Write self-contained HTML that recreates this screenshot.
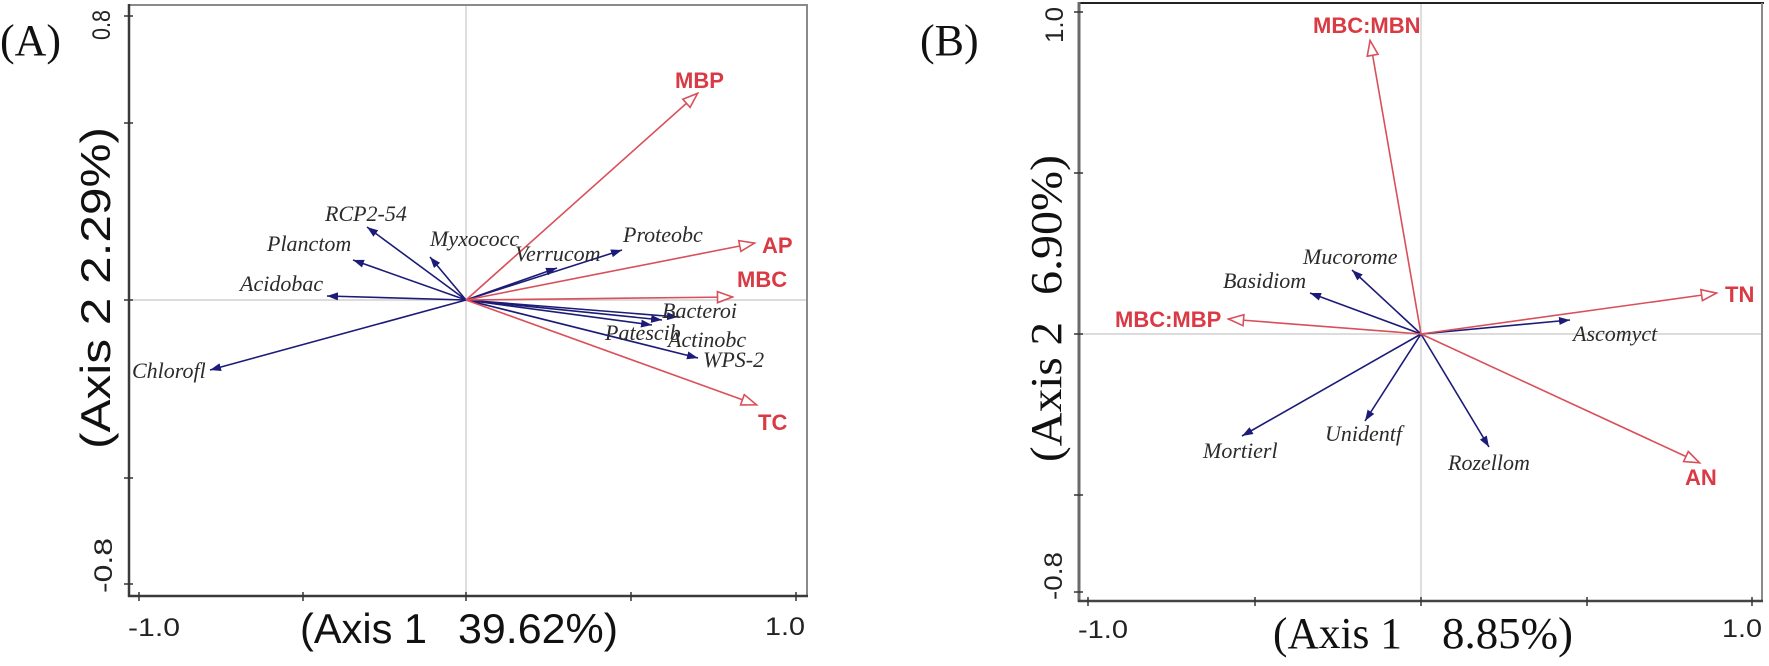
<!DOCTYPE html>
<html><head><meta charset="utf-8"><style>
html,body{margin:0;padding:0;background:#fff;}
svg{display:block;}
.it{font-family:"Liberation Serif",serif;font-style:italic;font-size:22px;fill:#2b2b2b;}
.rd{font-family:"Liberation Sans",sans-serif;font-weight:bold;font-size:22px;fill:#d93a44;}
.tk{font-family:"Liberation Sans",sans-serif;font-size:25px;fill:#222;}
.ta{font-family:"Liberation Sans",sans-serif;font-size:42px;fill:#111;}
.tb{font-family:"Liberation Serif",serif;font-size:44px;fill:#111;}
.pl{font-family:"Liberation Serif",serif;font-size:44px;fill:#111;}
.bl{stroke:#1c1c78;stroke-width:1.6;fill:none;}
.rl{stroke:#d9505a;stroke-width:1.6;fill:none;}
</style></head><body>
<svg width="1769" height="666" viewBox="0 0 1769 666" xmlns="http://www.w3.org/2000/svg">
<defs>
<marker id="bh" markerUnits="userSpaceOnUse" markerWidth="12" markerHeight="8" refX="11" refY="4" orient="auto">
<path d="M0,0 L11,4 L0,8 z" fill="#1c1c78"/>
</marker>
<marker id="rh" markerUnits="userSpaceOnUse" markerWidth="18" markerHeight="14" refX="16.5" refY="7" orient="auto">
<path d="M1,1.5 L16,7 L1,12.5 z" fill="#fff" stroke="#d9505a" stroke-width="1.6"/>
</marker>
</defs>

<!-- ============ PANEL A ============ -->
<text class="pl" x="0" y="55">(A)</text>
<line x1="129" y1="300" x2="807" y2="300" stroke="#c8c8c8" stroke-width="1.2"/>
<line x1="466" y1="5" x2="466" y2="596" stroke="#c8c8c8" stroke-width="1.2"/>
<line x1="129" y1="5" x2="808" y2="5" stroke="#8a8a8a" stroke-width="2"/>
<line x1="807" y1="5" x2="807" y2="597" stroke="#8a8a8a" stroke-width="2"/>
<line x1="129" y1="4" x2="129" y2="597" stroke="#3a3a3a" stroke-width="2.5"/>
<line x1="128" y1="596" x2="808" y2="596" stroke="#3a3a3a" stroke-width="2.5"/>
<g stroke="#333" stroke-width="1.5">
<line x1="124" y1="16" x2="133" y2="16"/>
<line x1="124" y1="123" x2="133" y2="123"/>
<line x1="124" y1="300" x2="133" y2="300"/>
<line x1="124" y1="478" x2="133" y2="478"/>
<line x1="124" y1="584" x2="133" y2="584"/>
<line x1="139" y1="592" x2="139" y2="601"/>
<line x1="303" y1="592" x2="303" y2="601"/>
<line x1="466" y1="592" x2="466" y2="601"/>
<line x1="631" y1="592" x2="631" y2="601"/>
<line x1="796" y1="592" x2="796" y2="601"/>
</g>
<text class="tk" transform="translate(110,40) rotate(-90)" textLength="30" lengthAdjust="spacingAndGlyphs">0.8</text>
<text class="tk" transform="translate(112,593) rotate(-90)" textLength="55" lengthAdjust="spacingAndGlyphs">-0.8</text>
<text class="tk" x="128" y="636" textLength="52" lengthAdjust="spacingAndGlyphs">-1.0</text>
<text class="tk" x="765" y="635" textLength="40" lengthAdjust="spacingAndGlyphs">1.0</text>
<text class="ta" x="300" y="643" textLength="127" lengthAdjust="spacingAndGlyphs">(Axis 1</text>
<text class="ta" x="458" y="643" textLength="160" lengthAdjust="spacingAndGlyphs">39.62%)</text>
<text class="ta" transform="translate(110,449) rotate(-90)" textLength="322" lengthAdjust="spacingAndGlyphs">(Axis 2  2.29%)</text>

<g class="bl" marker-end="url(#bh)">
<line x1="466" y1="300" x2="210" y2="370"/>
<line x1="466" y1="300" x2="327" y2="296"/>
<line x1="466" y1="300" x2="353" y2="260"/>
<line x1="466" y1="300" x2="367" y2="227"/>
<line x1="466" y1="300" x2="430" y2="257"/>
<line x1="466" y1="300" x2="557" y2="268"/>
<line x1="466" y1="300" x2="622" y2="250"/>
<line x1="466" y1="300" x2="678" y2="317"/>
<line x1="466" y1="300" x2="662" y2="320"/>
<line x1="466" y1="300" x2="652" y2="325"/>
<line x1="466" y1="300" x2="698" y2="358"/>
</g>
<g class="rl" marker-end="url(#rh)">
<line x1="466" y1="300" x2="698" y2="93"/>
<line x1="466" y1="300" x2="755" y2="243"/>
<line x1="466" y1="300" x2="733" y2="297"/>
<line x1="466" y1="300" x2="757" y2="405"/>
</g>
<text class="rd" x="675" y="88">MBP</text>
<text class="rd" x="762" y="253">AP</text>
<text class="rd" x="737" y="287">MBC</text>
<text class="rd" x="758" y="430">TC</text>
<text class="it" x="623" y="242">Proteobc</text>
<text class="it" x="515" y="261">Verrucom</text>
<text class="it" x="430" y="246">Myxococc</text>
<text class="it" x="325" y="221">RCP2-54</text>
<text class="it" x="267" y="251">Planctom</text>
<text class="it" x="240" y="291">Acidobac</text>
<text class="it" x="132" y="378">Chlorofl</text>
<text class="it" x="662" y="318">Bacteroi</text>
<text class="it" x="605" y="340">Patescib</text>
<text class="it" x="668" y="347">Actinobc</text>
<text class="it" x="703" y="367">WPS-2</text>

<!-- ============ PANEL B ============ -->
<text class="pl" x="920" y="55">(B)</text>
<line x1="1079" y1="334" x2="1762" y2="334" stroke="#c8c8c8" stroke-width="1.2"/>
<line x1="1421" y1="3" x2="1421" y2="601" stroke="#c8c8c8" stroke-width="1.2"/>
<line x1="1079" y1="3" x2="1764" y2="3" stroke="#222" stroke-width="2"/>
<line x1="1762" y1="3" x2="1762" y2="602" stroke="#8a8a8a" stroke-width="2"/>
<line x1="1079" y1="2" x2="1079" y2="602" stroke="#6a6a6a" stroke-width="3"/>
<line x1="1078" y1="601" x2="1763" y2="601" stroke="#444" stroke-width="2.5"/>
<g stroke="#333" stroke-width="1.5">
<line x1="1074" y1="12" x2="1083" y2="12"/>
<line x1="1074" y1="173" x2="1083" y2="173"/>
<line x1="1074" y1="334" x2="1083" y2="334"/>
<line x1="1074" y1="495" x2="1083" y2="495"/>
<line x1="1074" y1="592" x2="1083" y2="592"/>
<line x1="1088" y1="597" x2="1088" y2="606"/>
<line x1="1255" y1="597" x2="1255" y2="606"/>
<line x1="1421" y1="597" x2="1421" y2="606"/>
<line x1="1587" y1="597" x2="1587" y2="606"/>
<line x1="1752" y1="597" x2="1752" y2="606"/>
</g>
<text class="tk" transform="translate(1063,43) rotate(-90)" textLength="36" lengthAdjust="spacingAndGlyphs">1.0</text>
<text class="tk" transform="translate(1062,600) rotate(-90)" textLength="48" lengthAdjust="spacingAndGlyphs">-0.8</text>
<text class="tk" x="1078" y="638" textLength="50" lengthAdjust="spacingAndGlyphs">-1.0</text>
<text class="tk" x="1722" y="637" textLength="40" lengthAdjust="spacingAndGlyphs">1.0</text>
<text class="tb" x="1273" y="648" textLength="129" lengthAdjust="spacingAndGlyphs">(Axis 1</text>
<text class="tb" x="1442" y="648" textLength="131" lengthAdjust="spacingAndGlyphs">8.85%)</text>
<text class="tb" transform="translate(1061,462) rotate(-90)" textLength="140" lengthAdjust="spacingAndGlyphs">(Axis 2</text>
<text class="tb" transform="translate(1061,295) rotate(-90)" textLength="140" lengthAdjust="spacingAndGlyphs">6.90%)</text>

<g class="bl" marker-end="url(#bh)">
<line x1="1421" y1="334" x2="1352" y2="270"/>
<line x1="1421" y1="334" x2="1310" y2="293"/>
<line x1="1421" y1="334" x2="1570" y2="320"/>
<line x1="1421" y1="334" x2="1242" y2="436"/>
<line x1="1421" y1="334" x2="1365" y2="421"/>
<line x1="1421" y1="334" x2="1489" y2="447"/>
</g>
<g class="rl" marker-end="url(#rh)">
<line x1="1421" y1="334" x2="1370" y2="40"/>
<line x1="1421" y1="334" x2="1228" y2="319"/>
<line x1="1421" y1="334" x2="1717" y2="293"/>
<line x1="1421" y1="334" x2="1700" y2="463"/>
</g>
<text class="rd" x="1313" y="33">MBC:MBN</text>
<text class="rd" x="1115" y="327">MBC:MBP</text>
<text class="rd" x="1725" y="302">TN</text>
<text class="rd" x="1685" y="485">AN</text>
<text class="it" x="1303" y="264">Mucorome</text>
<text class="it" x="1223" y="288">Basidiom</text>
<text class="it" x="1573" y="341">Ascomyct</text>
<text class="it" x="1203" y="458">Mortierl</text>
<text class="it" x="1325" y="441">Unidentf</text>
<text class="it" x="1448" y="470">Rozellom</text>
</svg>
</body></html>
